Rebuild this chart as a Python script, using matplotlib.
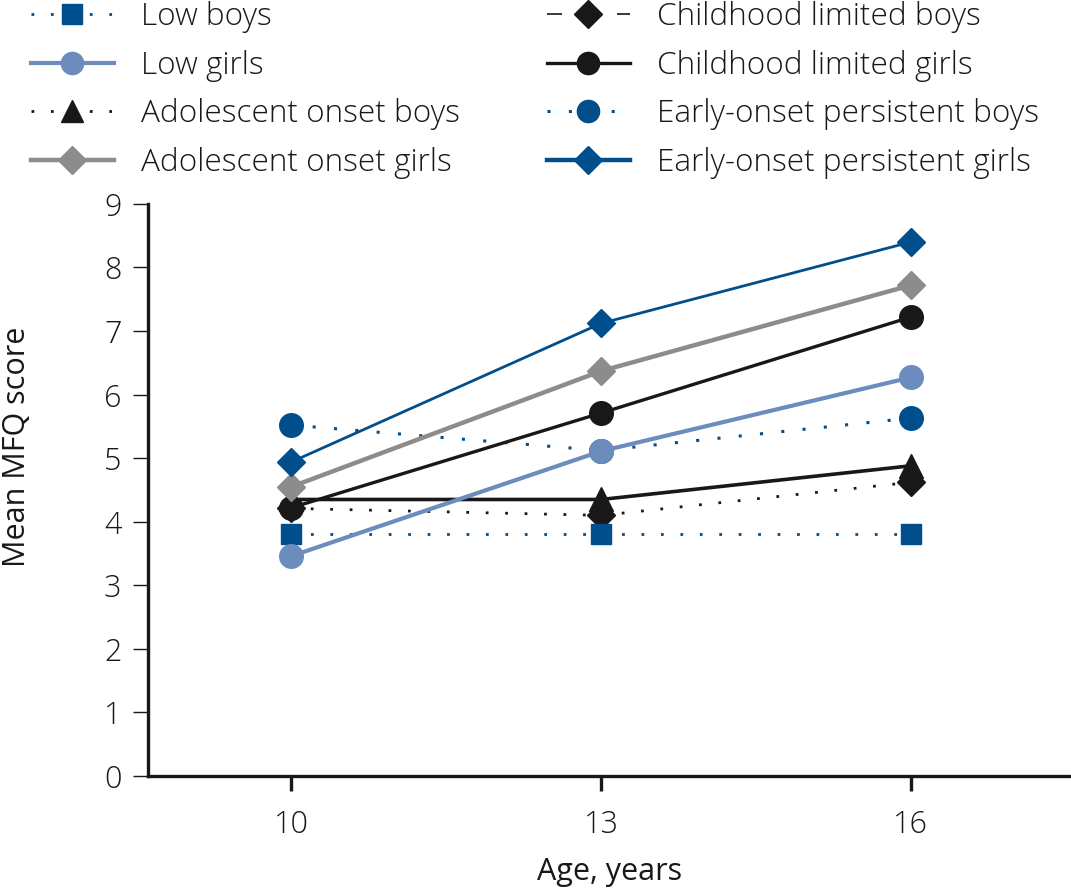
import matplotlib
matplotlib.use("Agg")
import matplotlib.pyplot as plt
from matplotlib.lines import Line2D

plt.rcParams['font.family'] = ['Open Sans', 'DejaVu Sans']
plt.rcParams['font.weight'] = 300

ages = [10, 13, 16]
age_labels = ['10', '13', '16']
yticks = [0, 1, 2, 3, 4, 5, 6, 7, 8, 9]

low_boys = [3.80, 3.80, 3.80]
low_girls = [3.46, 5.11, 6.27]
adol_boys = [4.35, 4.35, 4.88]
adol_girls = [4.55, 6.37, 7.72]
child_boys = [4.21, 4.10, 4.62]
child_girls = [4.22, 5.71, 7.22]
eop_boys = [5.52, 5.12, 5.63]
eop_girls = [4.94, 7.12, 8.40]

labels = ['Low boys', 'Low girls', 'Adolescent onset boys', 'Adolescent onset girls',
          'Childhood limited boys', 'Childhood limited girls',
          'Early-onset persistent boys', 'Early-onset persistent girls']

DB = '#004f8c'
LB = '#6b8cbd'
GR = '#8c8c8c'
BK = '#1a1718'
dot = (0, (1, 6))
FS = 22
LFS = 22.7

fig = plt.figure(figsize=(10.71, 8.90), dpi=100)
ax = fig.add_axes([0.138, 0.128, 0.862, 0.643])

ax.plot(ages, eop_boys, color=DB, lw=2.2, ls=dot, marker='o', ms=17, mec=DB, zorder=3)
ax.plot(ages, child_boys, color=BK, lw=2.0, ls=dot, marker='D', ms=14, mec=BK, zorder=3)
ax.plot(ages, low_boys, color=DB, lw=2.0, ls=dot, marker='s', ms=15, mec=DB, zorder=3)
ax.plot(ages, child_girls, color=BK, lw=2.4, ls='-', marker='o', ms=17, mec=BK, zorder=4)
ax.plot(ages, adol_boys, color=BK, lw=2.6, ls='-', marker='^', ms=17, mec=BK, zorder=4)
ax.plot(ages, adol_girls, color=GR, lw=3.2, ls='-', marker='D', ms=14, mec=GR, zorder=4)
ax.plot(ages, low_girls, color=LB, lw=3.0, ls='-', marker='o', ms=17, mec=LB, zorder=5)
ax.plot(ages, eop_girls, color=DB, lw=2.0, ls='-', marker='D', ms=14, mec=DB, zorder=5)

ax.set_xlim(8.61, 17.55)
ax.set_ylim(0, 9)
ax.set_xticks(ages)
ax.set_xticklabels(age_labels)
ax.set_yticks(yticks)
for s in ['top', 'right']:
    ax.spines[s].set_visible(False)
for s in ['left', 'bottom']:
    ax.spines[s].set_linewidth(2.4)
    ax.spines[s].set_color(BK)
ax.tick_params(axis='y', length=11, width=1.0, color=BK, labelsize=FS, pad=8, labelcolor=BK)
ax.tick_params(axis='x', length=11, width=2.4, color=BK, labelsize=FS, pad=13, labelcolor=BK)
ax.set_xlabel('Age, years', fontsize=FS, color=BK, labelpad=11)
ax.set_ylabel('Mean MFQ score', fontsize=FS, color=BK)
ax.yaxis.set_label_coords(-0.125, 0.575)

handles = [
    Line2D([], [], color=DB, lw=2.0, ls=dot, marker='s', ms=15, mec=DB),
    Line2D([], [], color=LB, lw=3.0, ls='-', marker='o', ms=16, mec=LB),
    Line2D([], [], color=BK, lw=2.0, ls=dot, marker='^', ms=16, mec=BK),
    Line2D([], [], color=GR, lw=3.2, ls='-', marker='D', ms=14, mec=GR),
    Line2D([], [], color=BK, lw=1.2, ls=(0, (9, 12)), marker='D', ms=14, mec=BK),
    Line2D([], [], color=BK, lw=2.4, ls='-', marker='o', ms=16, mec=BK),
    Line2D([], [], color=DB, lw=2.2, ls=dot, marker='o', ms=16, mec=DB),
    Line2D([], [], color=DB, lw=3.2, ls='-', marker='D', ms=14, mec=DB),
]
leg = fig.legend(handles, labels, ncol=2, loc='upper left', bbox_to_anchor=(0.017, 1.013),
                 frameon=False, fontsize=LFS, handlelength=2.63, handletextpad=0.86,
                 columnspacing=2.76, labelspacing=0.53, borderaxespad=0)
for t in leg.get_texts():
    t.set_color(BK)

fig.savefig('out.png', dpi=100)
